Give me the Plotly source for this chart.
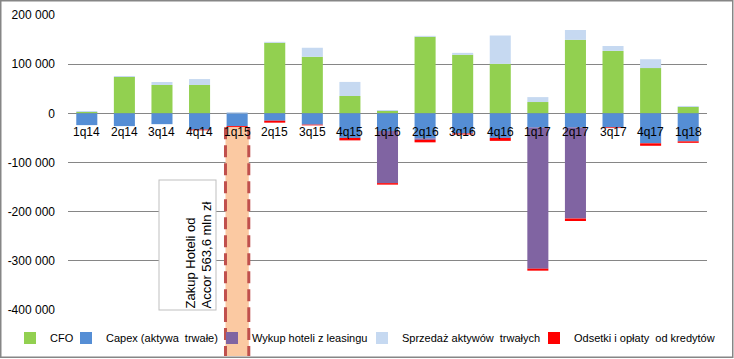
import plotly.graph_objects as go

categories = ["1q14", "2q14", "3q14", "4q14", "1q15", "2q15", "3q15", "4q15", "1q16",
              "2q16", "3q16", "4q16", "1q17", "2q17", "3q17", "4q17", "1q18"]
cfo = [2700, 74000, 57700, 57700, 0, 143400, 115000, 35300, 4700,
       155600, 119000, 100600, 23000, 149500, 127000, 92000, 13000]
capex = [-24000, -26000, -22000, -33000, -26000, -15000, -23000, -50000, -36000,
         -51000, -41000, -50000, -29000, -29000, -28500, -61000, -57000]
wykup = [0, 0, 0, 0, 0, 0, 0, 0, -106000,
         -3000, 0, 0, -287000, -185000, 0, 0, 0]
sprzedaz = [2000, 2000, 6000, 12000, 2700, 2000, 18400, 28600, 2000,
            2000, 4000, 57700, 10000, 20000, 10000, 18000, 2000]
odsetki = [0, 0, 0, -1500, -2500, -4000, -1500, -5000, -3000,
           -5000, -2000, -6000, -4000, -5000, -1500, -5000, -3000]

y_tick_values = [200000, 100000, 0, -100000, -200000, -300000, -400000]
y_tick_labels = ["200 000", "100 000", "0", "-100 000", "-200 000", "-300 000", "-400 000"]

series_names = ["CFO", "Capex (aktywa  trwałe)", "Wykup hoteli z leasingu",
                "Sprzedaż aktywów  trwałych", "Odsetki i opłaty  od kredytów"]
series_colors = ["#92D050", "#558ED5", "#8064A2", "#C6D9F1", "#FF0000"]
series_values = [cfo, capex, wykup, sprzedaz, odsetki]

highlight_category = "1q15"
note_text = "Zakup Hoteli od<br>Accor 563,6 mln zł"

W, H = 734, 359
ML, MR, MT, MB = 68, 27, 15, 49
PW, PH = W - ML - MR, H - MT - MB
FONT = "Liberation Sans, Arial, sans-serif"

# pixel x of each legend swatch (one single-entry legend per series)
legend_swatch_px = [24, 80, 226, 376, 548]
legend_y_px = 338

fig = go.Figure()
legend_layout = {}
for i, (name, color, vals) in enumerate(zip(series_names, series_colors, series_values)):
    lid = "legend" if i == 0 else f"legend{i + 1}"
    fig.add_trace(go.Bar(x=categories, y=vals, name=name, marker_color=color,
                         marker_line_width=0, legend=lid))
    legend_layout[lid] = dict(
        orientation="h", xanchor="left", yanchor="middle",
        x=(legend_swatch_px[i] - 14 - ML) / PW,
        y=(MT + PH - legend_y_px) / PH,
        font=dict(family=FONT, size=11, color="#000000"),
        bgcolor="rgba(0,0,0,0)", borderwidth=0,
    )

# category labels next to the zero line
annotations = []
for c in categories:
    annotations.append(dict(x=c, y=0, xref="x", yref="y", text=c, showarrow=False,
                            yanchor="top", yshift=-10,
                            font=dict(family=FONT, size=12, color="#000000")))

# note box
annotations.append(dict(xref="paper", yref="paper",
                        x=(187 - ML) / PW, y=(MT + PH - 245.5) / PH,
                        xanchor="center", yanchor="middle",
                        text=note_text, textangle=-90, showarrow=False,
                        width=127, height=54, align="left", valign="bottom",
                        bgcolor="#FFFFFF", bordercolor="#BFBFBF", borderwidth=1,
                        font=dict(family=FONT, size=13, color="#000000")))

# highlighted column (1q15)
hi = categories.index(highlight_category)
neg_bottom = capex[hi] + wykup[hi] + odsetki[hi]
half = 0.31
below = -(MB - 3) / PH
dash_line = dict(color="#C0504D", width=3, dash="12px,6px")
shapes = [
    dict(type="rect", xref="x", yref="y", x0=hi - half, x1=hi + half,
         y0=neg_bottom, y1=y_tick_values[-1], layer="above",
         fillcolor="#FBC9A2", line=dict(width=0)),
    dict(type="rect", xref="x", yref="paper", x0=hi - half, x1=hi + half,
         y0=below, y1=0, layer="above",
         fillcolor="#FBC9A2", line=dict(width=0)),
]
for xx in (hi - half, hi + half):
    shapes.append(dict(type="line", xref="x", yref="y", x0=xx, x1=xx,
                       y0=neg_bottom, y1=y_tick_values[-1], layer="above", line=dash_line))
    shapes.append(dict(type="line", xref="x", yref="paper", x0=xx, x1=xx,
                       y0=0, y1=below, layer="above", line=dash_line))
# outer chart border
shapes.append(dict(type="rect", xref="paper", yref="paper",
                   x0=(0.75 - ML) / PW, x1=(W - 1.25 - ML) / PW,
                   y0=-(MB - 1.75) / PH, y1=1 + (MT - 0.75) / PH,
                   line=dict(color="#868686", width=1.5), layer="below"))

fig.update_layout(
    width=W, height=H,
    margin=dict(l=ML, r=MR, t=MT, b=MB, pad=0, autoexpand=False),
    barmode="relative", bargap=0.44,
    plot_bgcolor="#FFFFFF", paper_bgcolor="#FFFFFF",
    font=dict(family=FONT, size=12, color="#000000"),
    xaxis=dict(showticklabels=False, showgrid=False, zeroline=False,
               showline=False, ticks="", range=[-0.5, len(categories) - 0.5]),
    yaxis=dict(range=[-400000, 200000], tickvals=y_tick_values, ticktext=y_tick_labels,
               showgrid=True, gridcolor="#868686", gridwidth=1.3,
               zeroline=True, zerolinecolor="#868686", zerolinewidth=1.3,
               showline=False, ticks="", ticklabelstandoff=12, automargin=False,
               tickfont=dict(family=FONT, size=12, color="#000000")),
    annotations=annotations,
    shapes=shapes,
    showlegend=True,
    hovermode=False,
    **legend_layout,
)

fig.write_html("out.html",
               config={"displayModeBar": False, "staticPlot": True},
               post_script="document.body.style.margin='0';document.body.style.overflow='hidden';")
